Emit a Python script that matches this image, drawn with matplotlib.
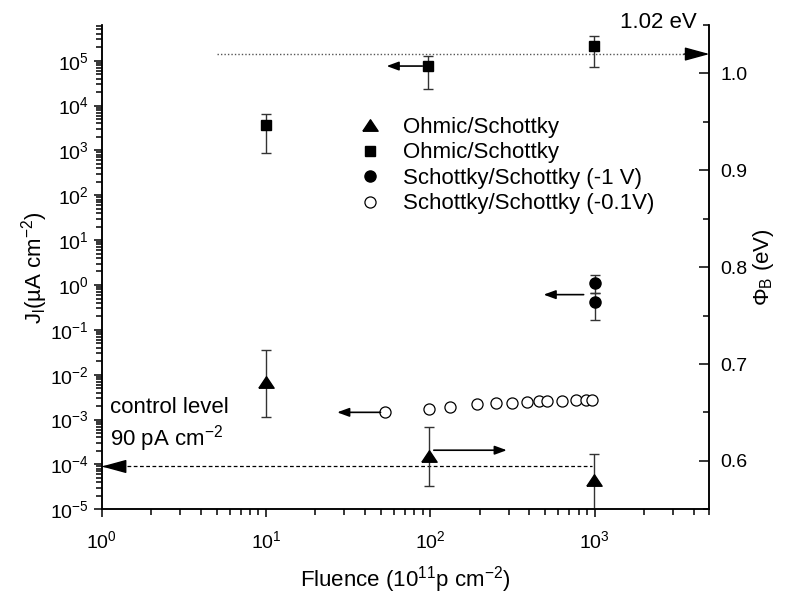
import numpy as np
import matplotlib
matplotlib.use('Agg')
import matplotlib.pyplot as plt
from matplotlib.lines import Line2D
from matplotlib.ticker import (LogLocator, FixedLocator, MultipleLocator,
                               FormatStrFormatter, NullFormatter)

plt.rcParams['font.family'] = ['Liberation Sans', 'DejaVu Sans']
plt.rcParams['mathtext.fontset'] = 'custom'
plt.rcParams['mathtext.rm'] = 'Liberation Sans'
plt.rcParams['mathtext.it'] = 'Liberation Sans:italic'
plt.rcParams['mathtext.bf'] = 'Liberation Sans:bold'

# --- data ---
# Ohmic/Schottky, squares -> J_l (left axis)
sq_x = [10, 97, 985]
sq_y = [3690, 7.6e4, 2.13e5]
sq_lo = [870, 2.3e4, 7.2e4]
sq_hi = [6500, 1.27e5, 3.5e5]

# Ohmic/Schottky, triangles -> Phi_B (right axis)
tri_x = [10, 98, 985]
tri_y = [0.681, 0.605, 0.580]
tri_lo = [0.645, 0.574, 0.540]
tri_hi = [0.714, 0.635, 0.607]

# Schottky/Schottky (-1 V), filled circles -> J_l
fc_x = [1000, 1000]
fc_y = [1.1, 0.41]
fc_lo = [0.66, 0.166]
fc_hi = [1.67, 0.66]

# Schottky/Schottky (-0.1V), open circles -> J_l
oc_x = [52.9, 98, 131, 191, 251, 313, 387, 456, 512, 634, 766, 881, 963]
oc_y = [1.45e-3, 1.75e-3, 1.94e-3, 2.19e-3, 2.31e-3, 2.34e-3, 2.5e-3,
        2.55e-3, 2.55e-3, 2.64e-3, 2.69e-3, 2.73e-3, 2.73e-3]

labels = ['Ohmic/Schottky', 'Ohmic/Schottky',
          'Schottky/Schottky (-1 V)', 'Schottky/Schottky (-0.1V)']

control_level = 9e-5      # 90 pA cm^-2 in uA cm^-2
phi_max = 1.02            # eV

# arrows: (x_start, x_end, y) pointing to the axis the series belongs to
left_arrows = [(89.4, 54.2, 7.6e4), (857, 489, 0.61), (49.8, 27.1, 1.45e-3)]
right_arrows = [(105, 292, 0.611)]

tri_marker = [(-1, -0.75), (1, -0.75), (0, 0.75), (-1, -0.75)]

fig = plt.figure(figsize=(7.86, 5.94), dpi=100)
rect = [101.7 / 786, 1 - 509.3 / 594, 607.8 / 786, 484.3 / 594]
ax = fig.add_axes(rect)
ax.set_xscale('log')
ax.set_yscale('log')
ax.set_xlim(1, 5000)
ax.set_ylim(1e-5, 10 ** 5.796)

# ticks, left / bottom
decades_x = range(0, 4)
decades_y = range(-5, 6)
ax.xaxis.set_major_locator(LogLocator(base=10, numticks=20))
ax.xaxis.set_minor_locator(FixedLocator([m * 10.0 ** d for d in decades_x
                                         for m in range(2, 10)]))
ax.xaxis.set_minor_formatter(NullFormatter())
ax.yaxis.set_major_locator(LogLocator(base=10, numticks=30))
ax.yaxis.set_minor_locator(FixedLocator([m * 10.0 ** d for d in decades_y
                                         for m in range(2, 10)]))
ax.yaxis.set_minor_formatter(NullFormatter())
ax.tick_params(which='major', direction='out', length=6, width=1.1,
               labelsize=14, top=False, right=False)
ax.tick_params(which='minor', direction='out', length=4.5, width=1.1,
               top=False, right=False)
ax.tick_params(axis='x', which='major', pad=9)
ax.tick_params(axis='y', which='major', pad=3)

ax2 = ax.twinx()
ax2.set_ylim(0.55, 1.05)

for a in (ax, ax2):
    a.spines['top'].set_visible(False)
    for s in ('left', 'right', 'bottom'):
        a.spines[s].set_linewidth(1.1)

err_kw = dict(ecolor='#333333', elinewidth=1, capsize=3.6, capthick=1,
              ls='none', color='k')

ax.errorbar(sq_x, sq_y, yerr=[np.subtract(sq_y, sq_lo), np.subtract(sq_hi, sq_y)],
            marker='s', ms=7.5, **err_kw)
ax.errorbar(fc_x, fc_y, yerr=[np.subtract(fc_y, fc_lo), np.subtract(fc_hi, fc_y)],
            marker='o', ms=8, **err_kw)
ax.plot(oc_x, oc_y, 'o', ms=8, mfc='white', mec='k', mew=0.9, ls='none')
ax2.errorbar(tri_x, tri_y, yerr=[np.subtract(tri_y, tri_lo), np.subtract(tri_hi, tri_y)],
             marker=tri_marker, ms=11, **err_kw)

# small arrows
small = dict(arrowstyle='-|>,head_length=0.6,head_width=0.22', color='k',
             lw=1.2, shrinkA=0, shrinkB=0, mutation_scale=12)
for x0, x1, y in left_arrows:
    ax.annotate('', xy=(x1, y), xytext=(x0, y), arrowprops=small)
for x0, x1, y in right_arrows:
    ax2.annotate('', xy=(x1, y), xytext=(x0, y), arrowprops=small)

big = dict(arrowstyle='-|>,head_length=1.1,head_width=0.3', color='k',
           lw=1, shrinkA=0, shrinkB=0, mutation_scale=14)

# control level
ax.plot([1, 970], [control_level, control_level], color='k', lw=0.9,
        dashes=(3, 2))
ax.annotate('', xy=(1, control_level), xytext=(1.35, control_level),
            arrowprops=big, annotation_clip=False)
ax.text(1.12, 1.42e-3, 'control level', fontsize=16, va='baseline')
ax.text(1.12, 2.58e-4, r'90 pA cm$^{-2}$', fontsize=16, va='baseline')

# 1.02 eV line
ax2.plot([5.05, 3500], [phi_max, phi_max], color='#555555', lw=1,
         ls=(0, (1, 1.5)))
ax2.annotate('', xy=(5000, phi_max), xytext=(3500, phi_max),
             arrowprops=big, annotation_clip=False)
fig.text(697 / 786, 1 - 28.3 / 594, '1.02 eV', fontsize=16, ha='right',
         va='baseline')

# ticks, right
ax2.yaxis.set_major_locator(MultipleLocator(0.1))
ax2.yaxis.set_minor_locator(MultipleLocator(0.05))
ax2.yaxis.set_major_formatter(FormatStrFormatter('%.1f'))
ax2.tick_params(axis='y', which='major', direction='in', length=7, width=1.1,
                labelsize=14, pad=8)
ax2.tick_params(axis='y', which='minor', direction='in', length=4, width=1.1)

ax.set_xlabel(r'Fluence (10$^{11}$p cm$^{-2}$)', fontsize=16)
ax.xaxis.set_label_coords(0.5, -0.113)
ax.set_ylabel(r'J$_{\rm l}$(µA cm$^{-2}$)', fontsize=16)
ax.yaxis.set_label_coords(-0.085, 0.5)
ax2.set_ylabel(r'Φ$_{\rm B}$ (eV)', fontsize=16)
ax2.yaxis.set_label_coords(1.069, 0.5)

# legend
handles = [
    Line2D([], [], marker=tri_marker, ms=11, color='k', ls='none'),
    Line2D([], [], marker='s', ms=7.5, color='k', ls='none'),
    Line2D([], [], marker='o', ms=8, color='k', ls='none'),
    Line2D([], [], marker='o', ms=8, mfc='white', mec='k', mew=0.9, ls='none'),
]
ax.legend(handles, labels, loc='upper left', bbox_to_anchor=(359 / 786, 1 - 117 / 594),
          bbox_transform=fig.transFigure, frameon=False, fontsize=16,
          handlelength=1.0, handletextpad=1.0, labelspacing=0.2,
          borderpad=0, borderaxespad=0, numpoints=1)

fig.savefig('out.png', dpi=100)
